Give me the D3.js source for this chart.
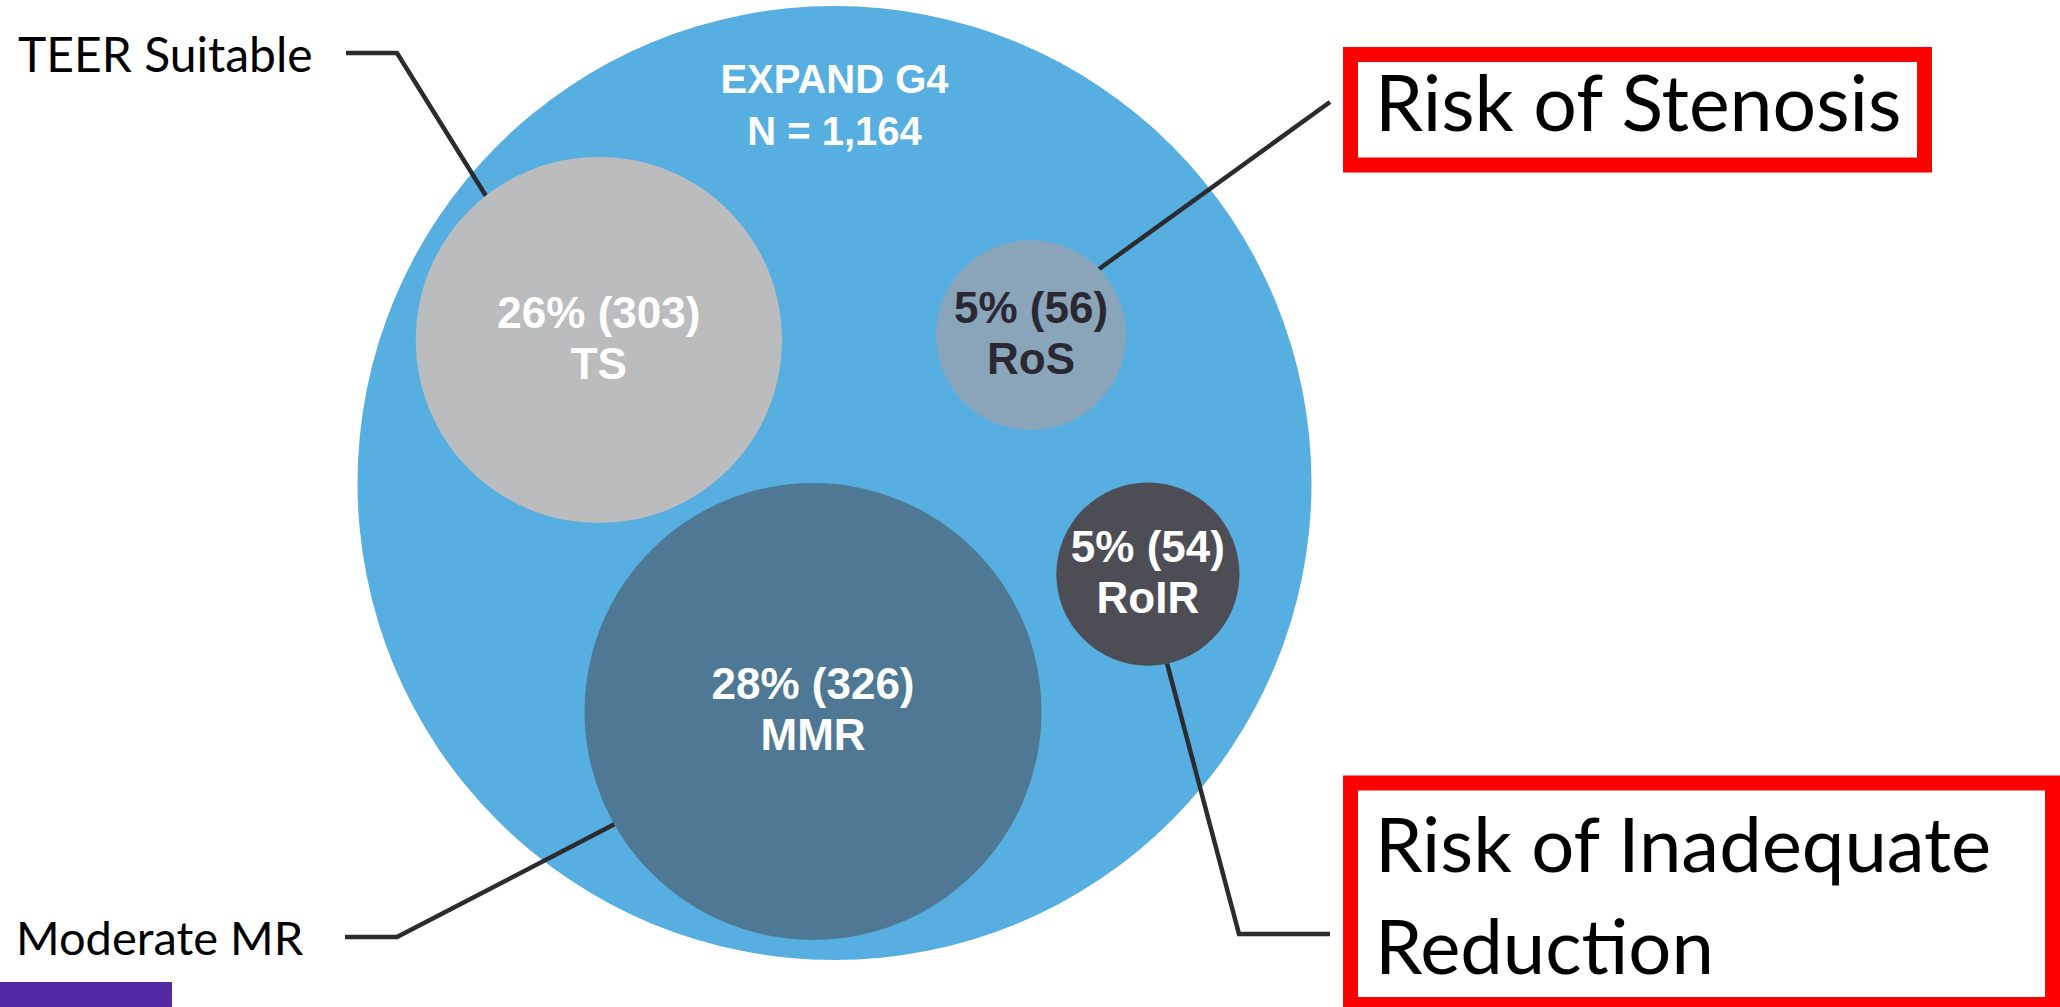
<!DOCTYPE html>
<html>
<head>
<meta charset="utf-8">
<script src="https://cdn.jsdelivr.net/npm/d3@7"></script>
<style>
  html, body { margin: 0; padding: 0; background: #ffffff; }
  svg { display: block; }
</style>
</head>
<body>
<svg id="chart" width="2060" height="1007"></svg>
<script>
// ---------------- DATA ----------------
const studyName = "EXPAND G4";
const studyTotal = 1164;
const groupCodes = ["TS", "MMR", "RoS", "RoIR"];
const groupPercents = [26, 28, 5, 5];
const groupCounts = [303, 326, 56, 54];
const groupNames = ["TEER Suitable", "Moderate MR", "Risk of Stenosis", "Risk of Inadequate Reduction"];

// ---------------- LAYOUT (units of the outer circle radius) ----------------
const outer = { cx: 834.5, cy: 483, r: 477 };
const layout = {
  TS:   { x: -0.494, y: -0.300, r: 0.384, fill: "#BBBCBE", text: "#ffffff" },
  MMR:  { x: -0.045, y:  0.479, r: 0.479, fill: "#4E7894", text: "#ffffff" },
  RoS:  { x:  0.412, y: -0.310, r: 0.199, fill: "#8AA5BA", text: "#2a2833" },
  RoIR: { x:  0.657, y:  0.191, r: 0.192, fill: "#4D4E55", text: "#ffffff" }
};
// leader lines: angle on circle edge (deg), elbow and end points in px
const leaders = {
  TS:   { angle: -128.1, pts: [[397, 53], [346, 53]] },
  MMR:  { angle: 150.4,  pts: [[397, 937], [345, 937]] },
  RoS:  { angle: -44.2,  pts: [[1330, 102]] },
  RoIR: { angle: 77.9,   pts: [[1239, 934], [1330, 934]] }
};

const svg = d3.select("#chart");
const x = d3.scaleLinear().domain([-1, 1]).range([outer.cx - outer.r, outer.cx + outer.r]);
const y = d3.scaleLinear().domain([-1, 1]).range([outer.cy - outer.r, outer.cy + outer.r]);
const rs = d3.scaleLinear().domain([0, 1]).range([0, outer.r]);

const groups = groupCodes.map((c, i) => ({
  code: c, pct: groupPercents[i], n: groupCounts[i], name: groupNames[i],
  cx: x(layout[c].x), cy: y(layout[c].y), r: rs(layout[c].r),
  fill: layout[c].fill, text: layout[c].text
}));

// outer circle
svg.append("circle")
  .attr("cx", x(0)).attr("cy", y(0)).attr("r", rs(1))
  .attr("fill", "#57AEE0");

// study title
const innerFont = "'Liberation Sans Narrow', 'Arial Narrow', sans-serif";
const fmt = d3.format(",");
const title = svg.append("text")
  .attr("x", x(0)).attr("text-anchor", "middle")
  .attr("font-family", innerFont).attr("font-weight", "bold")
  .attr("font-size", 40).attr("fill", "#ffffff");
title.append("tspan").attr("x", x(0)).attr("y", 93).text(studyName);
title.append("tspan").attr("x", x(0)).attr("y", 145).text("N = " + fmt(studyTotal));

// leader lines (drawn under inner circles)
const line = d3.line();
groups.forEach(g => {
  const L = leaders[g.code];
  const a = L.angle * Math.PI / 180;
  const start = [g.cx + g.r * Math.cos(a), g.cy + g.r * Math.sin(a)];
  svg.append("path")
    .attr("d", line([start, ...L.pts]))
    .attr("fill", "none").attr("stroke", "#2b2b30")
    .attr("stroke-width", 4.5).attr("stroke-linejoin", "miter");
});

// inner circles
svg.selectAll("circle.grp").data(groups).enter().append("circle")
  .attr("class", "grp")
  .attr("cx", d => d.cx).attr("cy", d => d.cy).attr("r", d => d.r)
  .attr("fill", d => d.fill);

const lbl = svg.selectAll("text.grp").data(groups).enter().append("text")
  .attr("class", "grp")
  .attr("text-anchor", "middle")
  .attr("font-family", innerFont)
  .attr("font-weight", "bold")
  .attr("font-size", 44)
  .attr("fill", d => d.text);
lbl.append("tspan").attr("x", d => d.cx).attr("y", d => d.cy - 12)
  .text(d => `${d.pct}% (${d.n})`);
lbl.append("tspan").attr("x", d => d.cx).attr("y", d => d.cy + 39)
  .text(d => d.code);

// outside labels
const outFont = "Lato, 'Open Sans', sans-serif";
svg.append("text").attr("x", 18).attr("y", 72)
  .attr("font-family", outFont).attr("font-size", 48).attr("fill", "#000")
  .text(groupNames[0]);
svg.append("text").attr("x", 16).attr("y", 955)
  .attr("font-family", outFont).attr("font-size", 47).attr("fill", "#000")
  .text(groupNames[1]);

// red boxes
svg.append("rect").attr("x", 1350.5).attr("y", 54.5).attr("width", 574).attr("height", 110.5)
  .attr("fill", "#fff").attr("stroke", "#FF0000").attr("stroke-width", 15);
svg.append("text").attr("x", 1375).attr("y", 131)
  .attr("font-family", outFont).attr("font-size", 77).attr("fill", "#000")
  .text(groupNames[2]);

svg.append("rect").attr("x", 1350.5).attr("y", 783).attr("width", 702).attr("height", 221.5)
  .attr("fill", "#fff").attr("stroke", "#FF0000").attr("stroke-width", 15);
const rir = svg.append("text").attr("font-family", outFont).attr("font-size", 76).attr("fill", "#000");
const words = groupNames[3].split(" ");
rir.append("tspan").attr("x", 1375).attr("y", 872).text(words.slice(0, 3).join(" "));
rir.append("tspan").attr("x", 1375).attr("y", 974).text(words.slice(3).join(" "));

// purple corner block
svg.append("rect").attr("x", 0).attr("y", 982).attr("width", 172).attr("height", 25).attr("fill", "#5229A3");
</script>
</body>
</html>
